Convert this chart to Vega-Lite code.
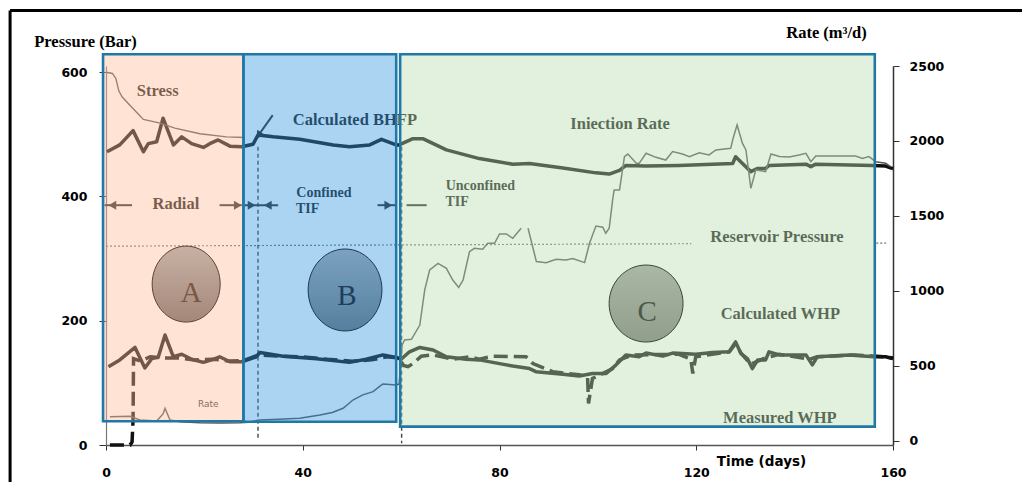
{
"$schema": "https://vega.github.io/schema/vega-lite/v6.json",
"width": 787,
"height": 379,
"autosize": {"type": "none"},
"padding": {"left": 106, "top": 66, "right": 129, "bottom": 37},
"background": "#ffffff",
"config": {"view": {"stroke": null}, "axis": {"grid": false}},
"datasets": {
"bhfp": [{"day":0.2,"p":472},{"day":2.8,"p":483},{"day":5.5,"p":506},{"day":7.6,"p":472},{"day":8.6,"p":485},{"day":10.3,"p":488},{"day":11.6,"p":526},{"day":13.7,"p":483},{"day":15.4,"p":496},{"day":17.4,"p":485},{"day":19.8,"p":479},{"day":21.1,"p":485},{"day":22.8,"p":491},{"day":25.2,"p":481},{"day":27.6,"p":480},{"day":29.9,"p":484},{"day":30.9,"p":499},{"day":34,"p":496},{"day":39.4,"p":492},{"day":46.2,"p":483},{"day":49.5,"p":480},{"day":53.6,"p":483},{"day":56,"p":492},{"day":59,"p":483},{"day":59.6,"p":483},{"day":62.4,"p":493},{"day":64.4,"p":493},{"day":69.2,"p":475},{"day":75.9,"p":461},{"day":82.7,"p":452},{"day":86.1,"p":453},{"day":92.9,"p":446},{"day":99.6,"p":438},{"day":102.3,"p":436},{"day":104.4,"p":442},{"day":105.7,"p":450},{"day":109.8,"p":449},{"day":116.5,"p":450},{"day":123.3,"p":452},{"day":127.4,"p":453},{"day":128,"p":464},{"day":129.4,"p":453},{"day":131.1,"p":440},{"day":132.4,"p":445},{"day":134.1,"p":445},{"day":134.8,"p":450},{"day":142.3,"p":452},{"day":143.3,"p":448},{"day":144.3,"p":452},{"day":155.8,"p":450},{"day":158.5,"p":449},{"day":159.5,"p":446},{"day":160,"p":445}],
"stress": [{"day":0,"p":600},{"day":1.3,"p":598},{"day":2,"p":590},{"day":2.6,"p":570},{"day":3.3,"p":560},{"day":5.2,"p":544},{"day":7.6,"p":524},{"day":11,"p":518},{"day":14,"p":510},{"day":19.1,"p":501},{"day":24.5,"p":496},{"day":28.2,"p":495}],
"cwhp": [{"day":0.5,"p":126},{"day":2.8,"p":137},{"day":5.9,"p":157},{"day":7.9,"p":124},{"day":9.3,"p":139},{"day":10.6,"p":141},{"day":12,"p":177},{"day":13.7,"p":142},{"day":15.4,"p":146},{"day":17.4,"p":138},{"day":19.8,"p":133},{"day":21.8,"p":138},{"day":23.1,"p":142},{"day":25.2,"p":134},{"day":27.6,"p":134},{"day":30.6,"p":142},{"day":31.3,"p":149},{"day":36,"p":143},{"day":42.8,"p":139},{"day":49.5,"p":133},{"day":52.9,"p":138},{"day":56.3,"p":145},{"day":59,"p":141},{"day":60,"p":138},{"day":61.7,"p":150},{"day":63.8,"p":157},{"day":66.5,"p":153},{"day":69.2,"p":142},{"day":73.2,"p":138},{"day":75.9,"p":137},{"day":80,"p":131},{"day":82.7,"p":127},{"day":86.1,"p":123},{"day":87.4,"p":118},{"day":92.9,"p":114},{"day":96.2,"p":111},{"day":98.9,"p":115},{"day":101.7,"p":115},{"day":103.7,"p":129},{"day":105.7,"p":145},{"day":108.4,"p":142},{"day":109.8,"p":148},{"day":113.2,"p":143},{"day":115.2,"p":148},{"day":119.9,"p":146},{"day":123.3,"p":149},{"day":126.7,"p":150},{"day":128,"p":166},{"day":129.1,"p":147},{"day":130.4,"p":139},{"day":131.4,"p":123},{"day":132.5,"p":137},{"day":134.1,"p":137},{"day":134.8,"p":150},{"day":136.9,"p":145},{"day":142.3,"p":145},{"day":143.6,"p":129},{"day":144.6,"p":142},{"day":151.1,"p":145},{"day":156.1,"p":142},{"day":158.5,"p":142},{"day":159.5,"p":140},{"day":160,"p":139}],
"mwhp": [{"day":0.8,"p":0},{"day":4.9,"p":0},{"day":5.3,"p":5},{"day":5.5,"p":40},{"day":5.6,"p":139},{"day":7,"p":135},{"day":9,"p":142},{"day":12,"p":140},{"day":15,"p":140},{"day":18,"p":137},{"day":22,"p":138},{"day":25,"p":135},{"day":28,"p":136},{"day":31,"p":145},{"day":35,"p":143},{"day":40,"p":142},{"day":45,"p":138},{"day":50,"p":135},{"day":54,"p":137},{"day":57,"p":142},{"day":59.5,"p":140},{"day":60.5,"p":128},{"day":61.4,"p":126},{"day":62.4,"p":131},{"day":64.1,"p":143},{"day":66.5,"p":145},{"day":70.5,"p":138},{"day":73.9,"p":142},{"day":75.9,"p":138},{"day":78.6,"p":143},{"day":85.4,"p":142},{"day":86.8,"p":131},{"day":90.8,"p":118},{"day":96.2,"p":113},{"day":97.9,"p":110},{"day":98.1,"p":67},{"day":98.9,"p":107},{"day":103,"p":123},{"day":104.4,"p":137},{"day":107.1,"p":145},{"day":116.5,"p":146},{"day":118.9,"p":138},{"day":119.3,"p":115},{"day":119.9,"p":142},{"day":126.7,"p":150},{"day":128,"p":163},{"day":129.1,"p":148},{"day":131,"p":130},{"day":134,"p":140},{"day":136.9,"p":146},{"day":143,"p":138},{"day":144.6,"p":142},{"day":152,"p":145},{"day":158.5,"p":142},{"day":160,"p":140}],
"reservoir": [{"day":0,"p":320,"seg":1},{"day":119,"p":324,"seg":1},{"day":156.6,"p":325,"seg":2},{"day":158.6,"p":325,"seg":2}],
"rate": [{"day":0.8,"r":162,"seg":1},{"day":4.9,"r":165,"seg":1},{"day":6.9,"r":140,"seg":1},{"day":10.3,"r":133,"seg":1},{"day":11.6,"r":180,"seg":1},{"day":12,"r":218,"seg":1},{"day":13,"r":140,"seg":1},{"day":15,"r":128,"seg":1},{"day":19.1,"r":122,"seg":1},{"day":23,"r":120,"seg":1},{"day":27.2,"r":122,"seg":1},{"day":29,"r":125,"seg":1},{"day":31.3,"r":140,"seg":1},{"day":35,"r":145,"seg":1},{"day":39.4,"r":151,"seg":1},{"day":43.5,"r":173,"seg":1},{"day":46,"r":190,"seg":1},{"day":48.2,"r":218,"seg":1},{"day":50.2,"r":273,"seg":1},{"day":52.2,"r":307,"seg":1},{"day":54.3,"r":329,"seg":1},{"day":55.5,"r":360,"seg":1},{"day":56.3,"r":380,"seg":1},{"day":59,"r":373,"seg":1},{"day":59.6,"r":380,"seg":1},{"day":60.2,"r":640,"seg":1},{"day":60.7,"r":673,"seg":1},{"day":62.1,"r":678,"seg":1},{"day":63.8,"r":773,"seg":1},{"day":64.8,"r":1007,"seg":1},{"day":65.8,"r":1140,"seg":1},{"day":67.5,"r":1184,"seg":1},{"day":69.2,"r":1151,"seg":1},{"day":70.5,"r":1073,"seg":1},{"day":71.7,"r":1024,"seg":1},{"day":72.6,"r":1073,"seg":1},{"day":73.9,"r":1262,"seg":1},{"day":74.9,"r":1284,"seg":1},{"day":76.6,"r":1278,"seg":1},{"day":77.6,"r":1318,"seg":1},{"day":79,"r":1318,"seg":1},{"day":80,"r":1380,"seg":1},{"day":81.4,"r":1380,"seg":1},{"day":82.7,"r":1351,"seg":1},{"day":84.4,"r":1418,"seg":1},
{"day":85.8,"r":1418,"seg":2},{"day":87.5,"r":1196,"seg":2},{"day":89.5,"r":1189,"seg":2},{"day":91.5,"r":1211,"seg":2},{"day":93.5,"r":1207,"seg":2},{"day":94.9,"r":1216,"seg":2},{"day":97.3,"r":1189,"seg":2},{"day":98.3,"r":1318,"seg":2},{"day":99.6,"r":1433,"seg":2},{"day":101,"r":1425,"seg":2},{"day":101.6,"r":1385,"seg":2},{"day":102.3,"r":1418,"seg":2},{"day":103,"r":1607,"seg":2},{"day":103.3,"r":1673,"seg":2},{"day":104.4,"r":1673,"seg":2},{"day":105.4,"r":1895,"seg":2},{"day":106.1,"r":1913,"seg":2},{"day":107.8,"r":1851,"seg":2},{"day":108.4,"r":1851,"seg":2},{"day":109.8,"r":1918,"seg":2},{"day":111.8,"r":1891,"seg":2},{"day":113.8,"r":1873,"seg":2},{"day":115.2,"r":1929,"seg":2},{"day":117.2,"r":1913,"seg":2},{"day":118.6,"r":1895,"seg":2},{"day":120.6,"r":1922,"seg":2},{"day":122.6,"r":1907,"seg":2},{"day":124,"r":1940,"seg":2},{"day":127,"r":1951,"seg":2},{"day":127.5,"r":2018,"seg":2},{"day":128.3,"r":2107,"seg":2},{"day":129.4,"r":1984,"seg":2},{"day":130.1,"r":1940,"seg":2},{"day":131.1,"r":1684,"seg":2},{"day":132.1,"r":1807,"seg":2},{"day":134.1,"r":1796,"seg":2},{"day":135.2,"r":1913,"seg":2},{"day":136.9,"r":1896,"seg":2},{"day":138.9,"r":1893,"seg":2},{"day":140.9,"r":1907,"seg":2},{"day":142.3,"r":1918,"seg":2},{"day":143.3,"r":1862,"seg":2},{"day":144.3,"r":1900,"seg":2},{"day":149,"r":1900,"seg":2},{"day":152.4,"r":1900,"seg":2},{"day":153.8,"r":1884,"seg":2},{"day":155.1,"r":1896,"seg":2},{"day":156.5,"r":1862,"seg":2},{"day":158.5,"r":1851,"seg":2},{"day":159.5,"r":1829,"seg":2}],
"phases": [{"day":30.9,"p":480,"p2":8},{"day":60.1,"p":480,"p2":3}],
"arrows": [{"day":-0.3,"day2":5.3,"p":386,"p2":386},{"day":23.1,"day2":27.6,"p":386,"p2":386},{"day":28.2,"day2":35.0,"p":386,"p2":386},{"day":55.2,"day2":59.0,"p":386,"p2":386},{"day":61.1,"day2":65.2,"p":386,"p2":386},{"day":33.9,"day2":31.3,"p":531,"p2":502}],
"heads": [{"day":1.3,"p":386,"dir":"left"},{"day":26.8,"p":386,"dir":"right"},{"day":29.6,"p":386,"dir":"right"},{"day":32.9,"p":386,"dir":"left"},{"day":57.4,"p":386,"dir":"right"}],
"labels": [{"text":"Stress","day":10.5,"p":561,"kind":"main"},{"text":"Calculated BHFP","day":50.6,"p":515,"kind":"main"},{"text":"Iniection Rate","day":104.5,"p":509,"kind":"main"},{"text":"Radial","day":14.2,"p":380,"kind":"main"},{"text":"Reservoir Pressure","day":136.4,"p":327,"kind":"main"},{"text":"Calculated WHP","day":137.1,"p":202,"kind":"main"},{"text":"Measured WHP","day":137,"p":36,"kind":"main"},{"text":"Confined","day":44.3,"p":399.6,"kind":"minor"},{"text":"TIF","day":41,"p":373,"kind":"minor"},{"text":"Unconfined","day":76.1,"p":410,"kind":"minor"},{"text":"TIF","day":71.4,"p":384.6,"kind":"minor"},{"text":"Rate","day":20.8,"p":60.5,"kind":"tiny"}],
"regions": [{"region":"A","day":-0.6,"day2":27.95,"p":629,"p2":38.3},{"region":"B","day":27.95,"day2":59.0,"p":629,"p2":37.5},{"region":"C","day":59.8,"day2":156.3,"p":629,"p2":29.5}],
"circles": [{"region":"A","day":16.3,"p":259},{"region":"B","day":48.6,"p":249.5},{"region":"C","day":109.8,"p":227.7}],
"letters": [{"text":"A","day":17.3,"p":230},{"text":"B","day":49.0,"p":225},{"text":"C","day":110,"p":199.6}]
},
"resolve": {"scale": {"y": "independent"}},
"layer": [
{
"layer": [
{"data": {"name": "bhfp"}, "mark": {"type": "line", "color": "#111111", "strokeWidth": 3.5, "strokeJoin": "round"},
 "encoding": {"x": {"field": "day", "type": "quantitative", "scale": {"domain": [0, 160]},
   "axis": {"values": [0, 40, 80, 120, 160], "format": "d", "title": "Time (days)", "titleX": 655, "titleY": 20, "titleAlign": "center", "titleBaseline": "alphabetic", "titleFont": "DejaVu Sans", "titleFontSize": 13.5, "titleFontWeight": "bold", "titleColor": "#000000", "labelFont": "DejaVu Sans", "labelFontSize": 12.5, "labelFontWeight": "bold", "labelColor": "#000000", "labelPadding": 16, "labelFlush": false, "labelOverlap": false, "tickSize": 5, "tickColor": "#333333", "domainColor": "#555555", "domainWidth": 1.5}},
  "y": {"field": "p", "type": "quantitative", "scale": {"domain": [0, 610]},
   "axis": {"orient": "left", "values": [0, 200, 400, 600], "format": "d", "title": "Pressure (Bar)", "titleAngle": 0, "titleX": -21, "titleY": -20, "titleAlign": "center", "titleBaseline": "alphabetic", "titleFont": "Liberation Serif", "titleFontSize": 16.5, "titleFontWeight": "bold", "titleColor": "#000000", "labelFont": "DejaVu Sans", "labelFontSize": 12.5, "labelFontWeight": "bold", "labelColor": "#000000", "labelPadding": 12, "tickSize": 7, "tickColor": "#333333", "domainColor": "#777777", "domainWidth": 1.2}}}},
{"data": {"values": [{}]}, "mark": {"type": "rule", "color": "#000000", "strokeWidth": 3},
 "encoding": {"x": {"datum": -19.5, "type": "quantitative", "scale": {"domain": [0, 160]}},
  "y": {"datum": 699.3, "type": "quantitative", "scale": {"domain": [0, 610]}},
  "y2": {"datum": -60}}},
{"data": {"values": [{}]}, "mark": {"type": "rule", "color": "#000000", "strokeWidth": 3},
 "encoding": {"x": {"datum": -19.5, "type": "quantitative", "scale": {"domain": [0, 160]}},
  "x2": {"datum": 187},
  "y": {"datum": 699.3, "type": "quantitative", "scale": {"domain": [0, 610]}}}},
{"data": {"name": "reservoir"}, "mark": {"type": "line", "color": "#707070", "strokeWidth": 1.2, "strokeDash": [2, 2]},
 "encoding": {"x": {"field": "day", "type": "quantitative", "scale": {"domain": [0, 160]}},
  "y": {"field": "p", "type": "quantitative", "scale": {"domain": [0, 610]}},
  "detail": {"field": "seg", "type": "nominal"}}},
{"data": {"name": "phases"}, "mark": {"type": "rule", "color": "#444444", "strokeWidth": 1.4, "strokeDash": [4, 3]},
 "encoding": {"x": {"field": "day", "type": "quantitative", "scale": {"domain": [0, 160]}},
  "y": {"field": "p", "type": "quantitative", "scale": {"domain": [0, 610]}},
  "y2": {"field": "p2"}}},
{"data": {"name": "stress"}, "mark": {"type": "line", "color": "#555555", "strokeWidth": 1.4},
 "encoding": {"x": {"field": "day", "type": "quantitative", "scale": {"domain": [0, 160]}},
  "y": {"field": "p", "type": "quantitative", "scale": {"domain": [0, 610]}}}},
{"data": {"name": "cwhp"}, "mark": {"type": "line", "color": "#111111", "strokeWidth": 3.5, "strokeJoin": "round"},
 "encoding": {"x": {"field": "day", "type": "quantitative", "scale": {"domain": [0, 160]}},
  "y": {"field": "p", "type": "quantitative", "scale": {"domain": [0, 610]}}}},
{"data": {"name": "mwhp"}, "mark": {"type": "line", "color": "#111111", "strokeWidth": 3.5, "strokeDash": [14, 6]},
 "encoding": {"x": {"field": "day", "type": "quantitative", "scale": {"domain": [0, 160]}},
  "y": {"field": "p", "type": "quantitative", "scale": {"domain": [0, 610]}}}},
{"data": {"name": "arrows"}, "mark": {"type": "rule", "color": "#2a2a2a", "strokeWidth": 2},
 "encoding": {"x": {"field": "day", "type": "quantitative", "scale": {"domain": [0, 160]}},
  "x2": {"field": "day2"},
  "y": {"field": "p", "type": "quantitative", "scale": {"domain": [0, 610]}},
  "y2": {"field": "p2"}}},
{"data": {"name": "heads"}, "mark": {"type": "point", "filled": true, "opacity": 1, "color": "#2a2a2a", "size": 80},
 "encoding": {"x": {"field": "day", "type": "quantitative", "scale": {"domain": [0, 160]}},
  "y": {"field": "p", "type": "quantitative", "scale": {"domain": [0, 610]}},
  "shape": {"field": "dir", "type": "nominal", "scale": {"domain": ["left", "right"], "range": ["triangle-left", "triangle-right"]}, "legend": null}}},
{"data": {"values": [{"day": 31.2, "p": 500}]}, "mark": {"type": "point", "filled": true, "opacity": 1, "color": "#1a1a1a", "shape": "triangle", "angle": 214, "size": 80},
 "encoding": {"x": {"field": "day", "type": "quantitative", "scale": {"domain": [0, 160]}},
  "y": {"field": "p", "type": "quantitative", "scale": {"domain": [0, 610]}}}},
{"data": {"name": "labels"}, "transform": [{"filter": "datum.kind === 'main'"}],
 "mark": {"type": "text", "font": "Liberation Serif", "fontWeight": "bold", "fontSize": 16.5, "align": "center", "baseline": "alphabetic", "color": "#1a1a1a"},
 "encoding": {"x": {"field": "day", "type": "quantitative", "scale": {"domain": [0, 160]}},
  "y": {"field": "p", "type": "quantitative", "scale": {"domain": [0, 610]}},
  "text": {"field": "text"}}},
{"data": {"name": "labels"}, "transform": [{"filter": "datum.kind === 'minor'"}],
 "mark": {"type": "text", "font": "Liberation Serif", "fontWeight": "bold", "fontSize": 14, "align": "center", "baseline": "alphabetic", "color": "#1a1a1a"},
 "encoding": {"x": {"field": "day", "type": "quantitative", "scale": {"domain": [0, 160]}},
  "y": {"field": "p", "type": "quantitative", "scale": {"domain": [0, 610]}},
  "text": {"field": "text"}}},
{"data": {"name": "labels"}, "transform": [{"filter": "datum.kind === 'tiny'"}],
 "mark": {"type": "text", "font": "DejaVu Sans", "fontSize": 9, "align": "center", "baseline": "alphabetic", "color": "#333333"},
 "encoding": {"x": {"field": "day", "type": "quantitative", "scale": {"domain": [0, 160]}},
  "y": {"field": "p", "type": "quantitative", "scale": {"domain": [0, 610]}},
  "text": {"field": "text"}}}
]
},
{
"layer": [
{"data": {"name": "rate"}, "mark": {"type": "line", "color": "#555555", "strokeWidth": 1.5},
 "encoding": {"x": {"field": "day", "type": "quantitative", "scale": {"domain": [0, 160]}},
  "y": {"field": "r", "type": "quantitative", "scale": {"domain": [-27, 2500]},
   "axis": {"orient": "right", "values": [0, 500, 1000, 1500, 2000, 2500], "format": "d", "title": "Rate (m³/d)", "titleAngle": 0, "titleX": -67, "titleY": -29, "titleAlign": "center", "titleBaseline": "alphabetic", "titleFont": "Liberation Serif", "titleFontSize": 16.5, "titleFontWeight": "bold", "titleColor": "#000000", "labelFont": "DejaVu Sans", "labelFontSize": 12.5, "labelFontWeight": "bold", "labelColor": "#000000", "labelPadding": 10, "tickSize": 6, "tickColor": "#333333", "domainColor": "#333333", "domainWidth": 1.5}},
  "detail": {"field": "seg", "type": "nominal"}}}
]
},
{
"layer": [
{"data": {"name": "regions"}, "mark": {"type": "rect", "fillOpacity": 0.41, "stroke": "#1f78a8", "strokeWidth": 2.6, "strokeOpacity": 1},
 "encoding": {"x": {"field": "day", "type": "quantitative", "scale": {"domain": [0, 160]}},
  "x2": {"field": "day2"},
  "y": {"field": "p", "type": "quantitative", "scale": {"domain": [0, 610]}, "axis": null},
  "y2": {"field": "p2"},
  "fill": {"field": "region", "type": "nominal", "scale": {"domain": ["A", "B", "C"], "range": ["#ffbe98", "#3296e1", "#b7dcb0"]}, "legend": null}}},
{"data": {"name": "circles"}, "transform": [{"filter": "datum.region === 'A'"}],
 "mark": {"type": "point", "shape": "M -0.895 0 A 0.895 1 0 1 0 0.895 0 A 0.895 1 0 1 0 -0.895 0 Z", "size": 5776, "filled": true, "opacity": 1,
  "fill": {"gradient": "linear", "x1": 0, "y1": 0, "x2": 0, "y2": 1, "stops": [{"offset": 0, "color": "#c8b1a4"}, {"offset": 1, "color": "#a4887a"}]},
  "stroke": "#5a4234", "strokeWidth": 1},
 "encoding": {"x": {"field": "day", "type": "quantitative", "scale": {"domain": [0, 160]}},
  "y": {"field": "p", "type": "quantitative", "scale": {"domain": [0, 610]}, "axis": null}}},
{"data": {"name": "circles"}, "transform": [{"filter": "datum.region === 'B'"}],
 "mark": {"type": "point", "shape": "M -0.9 0 A 0.9 1 0 1 0 0.9 0 A 0.9 1 0 1 0 -0.9 0 Z", "size": 6724, "filled": true, "opacity": 1,
  "fill": {"gradient": "linear", "x1": 0, "y1": 0, "x2": 0, "y2": 1, "stops": [{"offset": 0, "color": "#7ba2c0"}, {"offset": 1, "color": "#567f9f"}]},
  "stroke": "#1e3a50", "strokeWidth": 1},
 "encoding": {"x": {"field": "day", "type": "quantitative", "scale": {"domain": [0, 160]}},
  "y": {"field": "p", "type": "quantitative", "scale": {"domain": [0, 610]}, "axis": null}}},
{"data": {"name": "circles"}, "transform": [{"filter": "datum.region === 'C'"}],
 "mark": {"type": "point", "shape": "M -0.96 0 A 0.96 1 0 1 0 0.96 0 A 0.96 1 0 1 0 -0.96 0 Z", "size": 5929, "filled": true, "opacity": 1,
  "fill": {"gradient": "linear", "x1": 0, "y1": 0, "x2": 0, "y2": 1, "stops": [{"offset": 0, "color": "#abb7a5"}, {"offset": 1, "color": "#919e8b"}]},
  "stroke": "#3a4636", "strokeWidth": 1},
 "encoding": {"x": {"field": "day", "type": "quantitative", "scale": {"domain": [0, 160]}},
  "y": {"field": "p", "type": "quantitative", "scale": {"domain": [0, 610]}, "axis": null}}},
{"data": {"name": "letters"},
 "mark": {"type": "text", "font": "Liberation Serif", "fontSize": 29, "align": "center", "baseline": "alphabetic"},
 "encoding": {"x": {"field": "day", "type": "quantitative", "scale": {"domain": [0, 160]}},
  "y": {"field": "p", "type": "quantitative", "scale": {"domain": [0, 610]}, "axis": null},
  "text": {"field": "text"},
  "color": {"field": "text", "type": "nominal", "scale": {"domain": ["A", "B", "C"], "range": ["#7a5646", "#1f3d5c", "#4d5a48"]}, "legend": null}}}
]
}
]
}
